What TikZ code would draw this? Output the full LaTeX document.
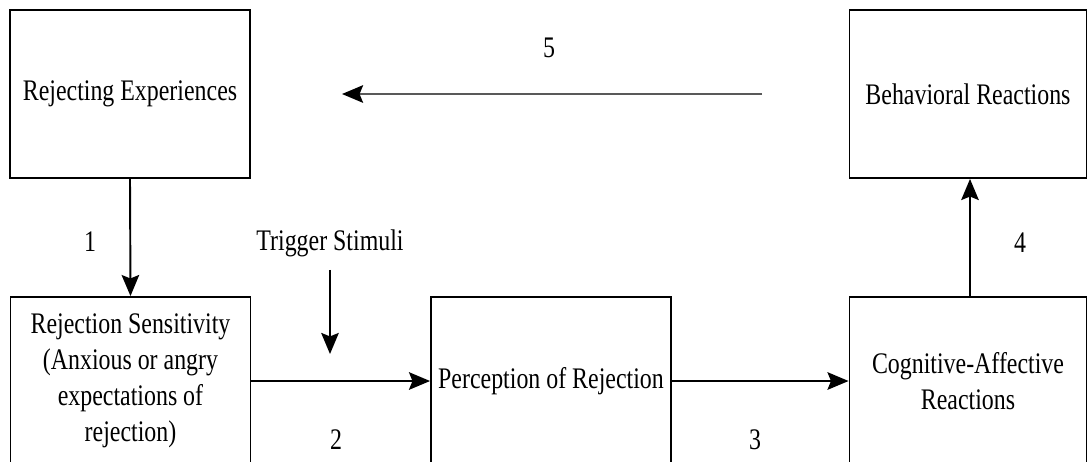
\documentclass[tikz,border=0pt]{standalone}
\usepackage{fontspec}
\setmainfont{Liberation Serif}[FakeStretch=0.8]
\usetikzlibrary{arrows.meta}

\begin{document}
\begin{tikzpicture}[x=0.02cm, y=-0.02cm,
		box/.style={draw, line width=1.1pt, minimum width=4.8cm, minimum height=3.36cm,
			align=center, inner sep=2pt, font=\fontsize{17}{20.5}\selectfont},
		lbl/.style={font=\fontsize{17}{20.5}\selectfont},
		arr/.style={line width=1.1pt, -{Stealth[length=12pt, width=10pt, inset=2pt, color=black]}}]
			% frame
			\useasboundingbox (0,0) rectangle (1089,461);
			\clip (0,0) rectangle (1089,461);
			% boxes
			\node[box] (exper) at (130,94) {Rejecting Experiences};
			\node[box, minimum width=4.74cm] (behav) at (968,94) {Behavioral Reactions};
			\node[box] (sensi) at (130.5,381) {Rejection Sensitivity\\(Anxious or angry\\expectations of\\rejection)};
			\node[box] (perce) at (551,381) {Perception of Rejection};
			\node[box, minimum width=4.74cm] (cogni) at (968,381) {Cognitive-Affective\\Reactions};
			% trigger
			\node[lbl] (trig) at (330,243) {Trigger Stimuli};
			\coordinate (trigend) at (330,354);
			\coordinate (backstart) at (762,94);
			\coordinate (backend) at (342,94);
			% connectors
			\draw[arr] (exper.south) -- (sensi.north);
			\draw[arr] (sensi.east) -- (perce.west);
			\draw[arr] (perce.east) -- (cogni.west);
			\draw[arr] (cogni.north -| 970,0) -- (behav.south -| 970,0);
			\draw[arr, shorten <=4pt] (trig.south) -- (trigend);
			\draw[arr, black!65] (backstart) -- (backend);
			% numbers
			\node[lbl] (one) at (90,242) {1};
			\node[lbl] (two) at (336,440) {2};
			\node[lbl] (three) at (755,440) {3};
			\node[lbl] (four) at (1020,243) {4};
			\node[lbl] (five) at (549,48) {5};
		\end{tikzpicture}
\end{document}
